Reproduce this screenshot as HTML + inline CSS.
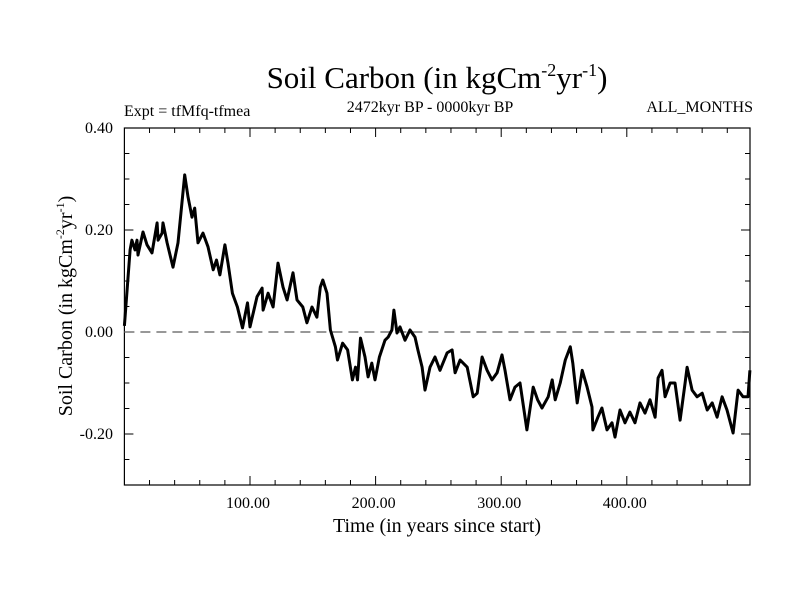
<!DOCTYPE html>
<html><head><meta charset="utf-8"><style>
body{margin:0;background:#fff;}
svg{display:block;font-family:"Liberation Serif",serif;}
</style></head><body>
<svg id="chart" width="800" height="600">
<rect width="800" height="600" fill="#fff"/>
<text x="437" y="88" font-size="31" text-anchor="middle">Soil Carbon (in kgCm<tspan font-size="18" dy="-12">-2</tspan><tspan dy="12">yr</tspan><tspan font-size="18" dy="-12">-1</tspan><tspan dy="12">)</tspan></text>
<text x="124" y="116" font-size="16">Expt = tfMfq-tfmea</text>
<text x="430" y="112" font-size="16" text-anchor="middle">2472kyr BP - 0000kyr BP</text>
<text x="753" y="112" font-size="16" text-anchor="end">ALL_MONTHS</text>
<text x="437" y="532" font-size="20" text-anchor="middle">Time (in years since start)</text>
<text transform="translate(72,306) rotate(-90)" font-size="20" text-anchor="middle">Soil Carbon (in kgCm<tspan font-size="12" dy="-8">-2</tspan><tspan dy="8">yr</tspan><tspan font-size="12" dy="-8">-1</tspan><tspan dy="8">)</tspan></text>
<g id="axes"></g>
<g id="plot"></g>
</svg>
<script>
const years=[0,4.5,6,8.4,10,10.8,14.8,18,22,26,26.8,30,30.7,34,38.7,42.7,48,50.6,53.8,56,58.6,62.6,66.6,70.7,73.3,76,80,82.5,86,90,94,98,100,105.6,109.6,110.4,114.4,118.4,122.3,126.3,129.5,134.2,137.4,142,145.3,149.4,153.3,156,158,161.3,164,168,169.7,173.7,177.7,181.5,184,185.6,188,191.6,194,197,199.5,203,207.5,210,213,214.6,217,219.4,223.4,227.4,231.4,233.7,237,239.3,243.3,247.3,251.3,256.9,260.9,263.3,267.3,272.9,277.7,280.9,284.8,288.8,292.7,296.7,300.6,303,307,311,315,320.5,325.5,329,332.5,337.4,340.6,343,347,351,355,357,360.5,364.5,368.4,372.3,373,377,380.2,384.2,388.2,390.6,394.6,398.6,402.5,406.5,410.5,414.5,418.5,422.5,424.9,428,430.5,434.5,438.4,442.4,446.4,448,452,456,460,464,468,471.9,475.9,479.8,484.6,488.6,492.5,496.5,498];
const values=[0.012,0.161,0.180,0.161,0.180,0.151,0.196,0.171,0.155,0.214,0.180,0.194,0.214,0.175,0.127,0.175,0.308,0.265,0.225,0.243,0.175,0.194,0.167,0.122,0.141,0.112,0.171,0.135,0.076,0.049,0.008,0.057,0.010,0.069,0.086,0.043,0.076,0.049,0.135,0.088,0.063,0.116,0.063,0.049,0.018,0.049,0.029,0.088,0.102,0.076,0.004,-0.029,-0.055,-0.022,-0.035,-0.094,-0.069,-0.094,-0.012,-0.049,-0.088,-0.061,-0.094,-0.049,-0.016,-0.010,0.004,0.043,-0.002,0.010,-0.016,0.004,-0.010,-0.035,-0.069,-0.114,-0.069,-0.049,-0.075,-0.041,-0.035,-0.080,-0.055,-0.069,-0.127,-0.120,-0.049,-0.075,-0.094,-0.080,-0.045,-0.075,-0.133,-0.108,-0.100,-0.192,-0.108,-0.133,-0.149,-0.127,-0.094,-0.133,-0.100,-0.055,-0.029,-0.061,-0.139,-0.075,-0.108,-0.147,-0.192,-0.167,-0.149,-0.192,-0.178,-0.206,-0.153,-0.178,-0.157,-0.178,-0.139,-0.159,-0.133,-0.167,-0.090,-0.075,-0.127,-0.100,-0.100,-0.173,-0.100,-0.069,-0.114,-0.127,-0.120,-0.153,-0.139,-0.167,-0.127,-0.153,-0.198,-0.114,-0.127,-0.127,-0.075];
const yTickValues=[0.40,0.20,0.00,-0.20];
const yTickLabels=["0.40","0.20","0.00","-0.20"];
const xTickValues=[100,200,300,400];
const xTickLabels=["100.00","200.00","300.00","400.00"];

const NS="http://www.w3.org/2000/svg";
const L=124.4,R=750,T=128,B=485;
const xMin=0,xMax=(R-L)/1.256,yMin=-0.30,yMax=0.40;
function xs(v){return L+(v-xMin)/(xMax-xMin)*(R-L);}
function ys(v){return B-(v-yMin)/(yMax-yMin)*(B-T);}
function mk(tag,attrs,parent){const e=document.createElementNS(NS,tag);for(const k in attrs)e.setAttribute(k,attrs[k]);parent.appendChild(e);return e;}
const axes=document.getElementById('axes'),plot=document.getElementById('plot');

const frame=mk('rect',{x:L,y:T,width:R-L,height:B-T,fill:'none',stroke:'#000','stroke-width':1.2},axes);



for(let i=0;i<=14;i++){
  const v=yMin+i*0.05,y=ys(v),major=(i%4===2);
  const len=major?9:5;
  const t1=mk('line',{x1:L,x2:L+len,y1:y,y2:y,stroke:'#000'},axes);
  
  
  const t2=mk('line',{x1:R,x2:R-len,y1:y,y2:y,stroke:'#000'},axes);
  
  
}
for(let v=20;v<xMax;v+=20){
  const x=xs(v),major=(v%100===0),len=major?9:5;
  const t1=mk('line',{x1:x,x2:x,y1:B,y2:B-len,stroke:'#000'},axes);
  
  
  const t2=mk('line',{x1:x,x2:x,y1:T,y2:T+len,stroke:'#000'},axes);
  
  
}
yTickValues.forEach((v,i)=>{
  const t=mk('text',{x:113,y:ys(v)+5,'font-size':16,'text-anchor':'end'},axes);
  t.textContent=yTickLabels[i];
  
  
});
xTickValues.forEach((v,i)=>{
  const t=mk('text',{x:xs(v)-2,y:508,'font-size':16,'text-anchor':'middle'},axes);
  t.textContent=xTickLabels[i];
  
  
});
const zero=mk('line',{x1:L,x2:R,y1:ys(0),y2:ys(0),stroke:'#777','stroke-width':1.5,'stroke-dasharray':'10,6'},plot);


const d=years.map((yr,i)=>(i?'L':'M')+xs(yr).toFixed(1)+','+ys(values[i]).toFixed(1)).join(' ');
const line=mk('path',{d:d,fill:'none',stroke:'#000','stroke-width':3,'stroke-linejoin':'round'},plot);


</script>
</body></html>
